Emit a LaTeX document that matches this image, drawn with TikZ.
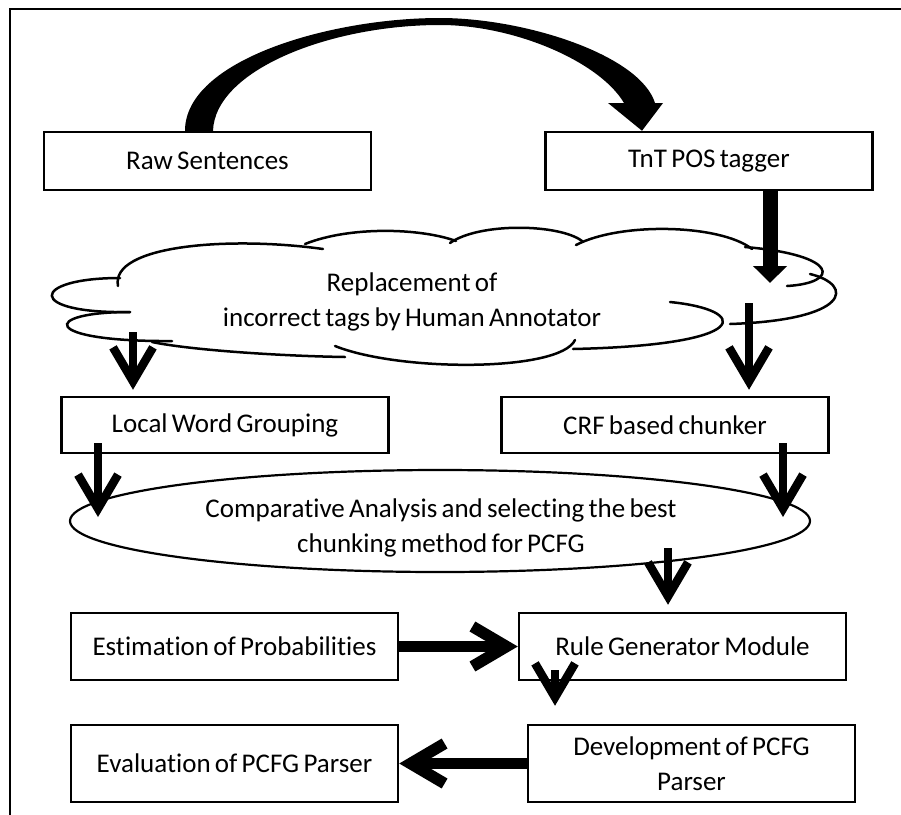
\documentclass[tikz,border=0pt]{standalone}
\usepackage{fontspec}
\setmainfont{Carlito}[Ligatures=NoCommon, WordSpace=0.7]
\usetikzlibrary{arrows.meta,shapes.geometric}

\begin{document}
\begin{tikzpicture}[
    x=1pt, y=-1pt,
    font=\fontsize{27}{35}\selectfont,
    box/.style={draw, line width=2.5pt, minimum width=327pt, minimum height=58pt, inner sep=0pt, align=center},
    blob/.style={draw, ellipse, line width=2.2pt, minimum width=740pt, minimum height=102pt, inner sep=0pt},
    puff/.style={line width=2.5pt, line cap=round},
    flowarrow/.style={line width=8.5pt, -{Straight Barb[length=34pt,width=40pt]}},
    wideflow/.style={line width=11.5pt, -{Straight Barb[length=34pt,width=40pt]}},
    fatarrow/.style={line width=15pt, -{Triangle[length=17pt,width=33pt]}}
  ]
  \useasboundingbox (0,0) rectangle (901,814);

  % frame
  \draw[line width=2pt] (10,830) -- (10,9) -- (910,9);

  % boxes
  \node[box] (raw) at (207.5,161) {Raw Sentences};
  \node[box] (tnt) at (709,161) {TnT POS tagger};
  \node[box, minimum height=56pt] (local) at (225,425) {Local Word Grouping};
  \node[box, minimum height=56pt] (crf) at (665,425) {CRF based chunker};
  \node[box, minimum height=67pt] (est) at (234.5,646.5) {Estimation of Probabilities};
  \node[box, minimum height=67pt] (rule) at (682.5,646.5) {Rule Generator Module};
  \node[box, minimum height=77pt] (eval) at (234.5,763.5) {Evaluation of PCFG Parser};
  \node[box, minimum height=77pt] (dev) at (691.5,763.5) {Development of PCFG\\Parser};

  % cloud
  \node[align=center, inner sep=0pt] (cloud) at (412,302) {Replacement of\\incorrect tags by Human Annotator};
  \draw[puff] (130,312) .. controls (25,314) and (30,278) .. (120,278);
  \draw[puff] (118,286) .. controls (110,245) and (230,236) .. (323,249);
  \draw[puff] (305,244) .. controls (350,226) and (420,228) .. (456,241);
  \draw[puff] (450,243) .. controls (480,222) and (560,224) .. (582,241);
  \draw[puff] (576,245) .. controls (620,222) and (720,224) .. (752,249);
  \draw[puff] (745,247) .. controls (840,255) and (840,283) .. (787,286);
  \draw[puff] (810,274) .. controls (855,285) and (850,320) .. (730,324);
  \draw[puff] (670,302) .. controls (750,310) and (755,345) .. (573,349);
  \draw[puff] (575,340) .. controls (560,372) and (400,372) .. (335,346);
  \draw[puff] (345,357) .. controls (280,356) and (190,350) .. (152,342);
  \draw[puff] (172,341) .. controls (40,342) and (40,312) .. (130,312);

  % comparison
  \node[blob] (comp) at (440,521) {};
  \node[align=center, inner sep=0pt] (comptext) at (441,528) {Comparative Analysis and selecting the best\\chunking method for PCFG};

  % arrow ends
  \coordinate (t1) at (770,283);
  \coordinate (s2) at (133,332);
  \coordinate (s3) at (749,303);
  \coordinate (s4) at (98,443);
  \coordinate (t4) at (98,517);
  \coordinate (s5) at (783,443);
  \coordinate (t5) at (783,517);
  \coordinate (s6) at (668,548);
  \coordinate (s7) at (555,670);

  % connectors
  \fill ([xshift=-22.5pt]raw.north) .. controls (185,60) and (330,18) .. (440,18)
    .. controls (525,18) and (640,55) .. (655,103) -- (663,103) -- ([xshift=-67pt]tnt.north)
    -- (608,103) -- (624,103) .. controls (600,62) and (515,25) .. (440,25)
    .. controls (330,25) and (215,70) .. ([xshift=5.5pt]raw.north) -- cycle;
  \draw[fatarrow] (tnt.south -| t1) -- (t1);
  \draw[flowarrow] (s2) -- ([yshift=6pt]s2 |- local.north);
  \draw[flowarrow] (s3) -- ([yshift=6pt]s3 |- crf.north);
  \draw[flowarrow] (s4) -- (t4);
  \draw[flowarrow] (s5) -- (t5);
  \draw[flowarrow] (s6) -- ([yshift=7pt]s6 |- rule.north);
  \draw[wideflow] (est) -- (rule);
  \draw[flowarrow] (s7) -- ([yshift=18pt]s7 |- dev.north);
  \draw[wideflow] (dev) -- (eval);

\end{tikzpicture}
\end{document}
